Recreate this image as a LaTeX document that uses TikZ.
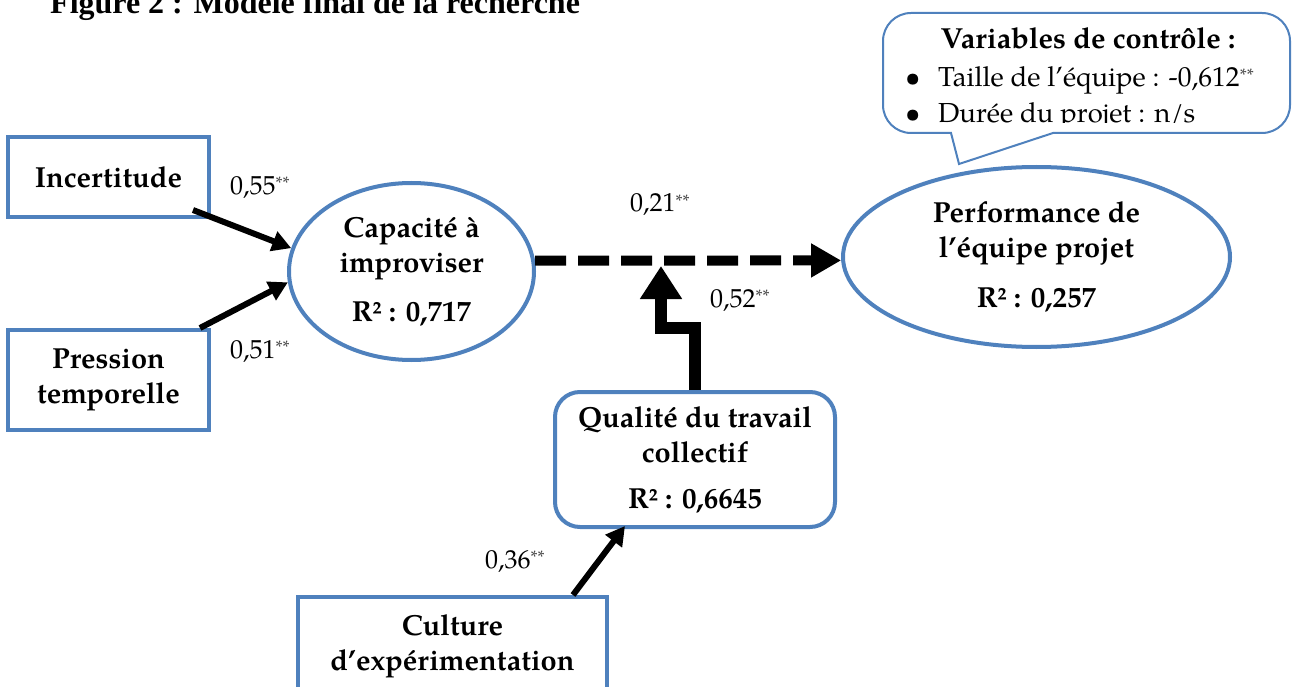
\documentclass[tikz,border=0pt]{standalone}
\usepackage{fontspec}
\setmainfont{texgyrepagella}[Extension=.otf, UprightFont=*-regular, BoldFont=*-bold, ItalicFont=*-italic, BoldItalicFont=*-bolditalic]
\newfontfamily\titlefont{Liberation Serif}
\usetikzlibrary{arrows.meta,shapes.geometric}
\definecolor{myblue}{RGB}{79,129,189}
\newcommand{\sig}{\raisebox{5pt}{\fontsize{18}{18}\selectfont\color{black!70}**}}
\tikzset{
  box/.style={draw=myblue, line width=4pt, rectangle, inner sep=0pt, align=center,
    font={\fontsize{29}{35}\selectfont\bfseries}},
  rbox/.style={box, rounded corners=25pt},
  ell/.style={draw=myblue, line width=4pt, ellipse, inner sep=0pt, align=center,
    font={\fontsize{29}{35}\selectfont\bfseries}},
  lbl/.style={anchor=base west, inner sep=0pt, font={\fontsize{26}{30}\selectfont}},
  arr/.style={line width=6pt, -{Triangle[length=19pt,width=20pt]}},
  dasharr/.style={line width=10pt, dash pattern=on 31pt off 12pt, -{Triangle[length=30pt,width=32pt]}},
  bentarr/.style={line width=12pt, miter limit=10, line join=miter, -{Triangle[length=33pt,width=40pt]}},
  callout/.style={draw=myblue, line width=2pt, fill=white},
  ctext/.style={anchor=base west, inner sep=0pt, font={\fontsize{27.5}{30}\selectfont}}
}
\begin{document}
\begin{tikzpicture}[x=1pt,y=-1pt]
\useasboundingbox (0,0) rectangle (1293,687);
\clip (0,0) rectangle (1293,687);

% title
\node[anchor=base west, inner sep=0pt, font={\titlefont\bfseries\fontsize{32}{36}\selectfont}] (title) at (50,14) {Figure 2 : Modèle final de la recherche};

% nodes
\node[box, minimum width=201pt, minimum height=80pt] (inc) at (108.5,177) {Incertitude};
\node[box, minimum width=201pt, minimum height=100pt] (pres) at (108.5,380) {Pression\\temporelle};
\node[ell, minimum width=245pt, minimum height=177pt] (cap) at (411.5,271.5) {Capacité à\\improviser\\[14pt]R² : 0,717};
\node[ell, minimum width=387pt, minimum height=180pt] (perf) at (1036.5,257) {Performance de\\l’équipe projet\\[15pt]R² : 0,257};
\node[rbox, minimum width=280pt, minimum height=135pt] (qual) at (695,459.5) {Qualité du travail\\collectif\\[11pt]R² : 0,6645};
\node[box, anchor=north, minimum width=309pt, inner ysep=18pt] (cult) at (452.5,595) {Culture\\d’expérimentation};

% connectors
\draw[arr] ([shift={(-18,-9)}]inc.south east) -- (cap.169);
\draw[arr] ([xshift=-11pt]pres.north east) -- (cap.185);
\draw[dasharr] (cap.5) -- (perf.181);
\coordinate (j) at (661,266);
\draw[bentarr] (qual.north) -- ++(0,-62) -| (j);
\draw[arr] ([xshift=-36pt]cult.north east) -- ([shift={(72,-3)}]qual.south west);

% labels
\node[lbl] (l55) at (230,195) {0,55\sig};
\node[lbl] (l51) at (230,358) {0,51\sig};
\node[lbl] (l21) at (630,212) {0,21\sig};
\node[lbl] (l52) at (710,307) {0,52\sig};
\node[lbl] (l36) at (485,568) {0,36\sig};

% callout
\draw[callout] (1053,133) -- (1262,133) arc[start angle=270,end angle=360,radius=28pt]
  -- (1290,41) arc[start angle=0,end angle=90,radius=28pt]
  -- (911,13) arc[start angle=90,end angle=180,radius=28pt]
  -- (883,105) arc[start angle=180,end angle=270,radius=28pt]
  -- (951,133) -- (959,164) -- cycle;
\begin{scope}
\clip (885,15) rectangle (1288,123);
\node[anchor=base, inner sep=0pt, font={\fontsize{29}{30}\selectfont\bfseries}] (vc) at (1088,49) {Variables de contrôle :};
\node[ctext] (t1) at (905,87) {\makebox[33pt][l]{\textbullet}Taille de l’équipe : -0,612\sig};
\node[ctext] (t2) at (905,123) {\makebox[33pt][l]{\textbullet}Durée du projet : n/s};
\end{scope}
\end{tikzpicture}
\end{document}
